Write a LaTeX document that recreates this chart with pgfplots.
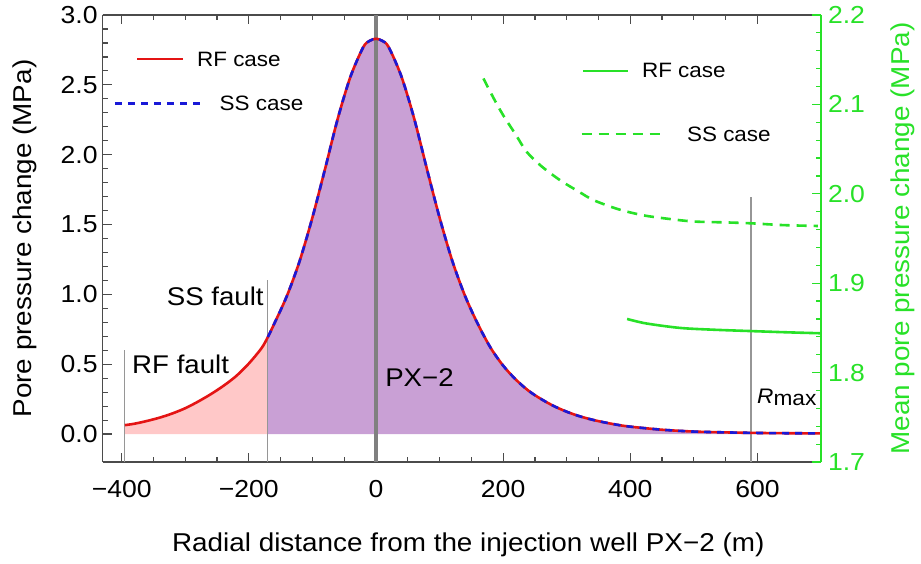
\documentclass[border=0pt]{standalone}
\usepackage{fontspec}
\setmainfont{Liberation Sans}[FakeStretch=1.08]
\usepackage{pgfplots}
\usepackage{pgfplotstable}
\pgfplotsset{compat=1.18}

\definecolor{rfred}{RGB}{228,20,20}
\definecolor{ssblue}{RGB}{25,25,215}
\definecolor{fillpurple}{RGB}{201,160,213}
\definecolor{fillpink}{RGB}{255,200,200}
\definecolor{grn}{RGB}{40,225,40}
\definecolor{framec}{RGB}{75,75,75}
\definecolor{vline}{RGB}{150,150,150}
\definecolor{pxline}{RGB}{128,128,128}

\newcommand\tickfont{\fontsize{12.3bp}{14bp}\selectfont}
\newcommand\labfont{\fontsize{12.9bp}{15bp}\selectfont}
\newcommand\annfont{\fontsize{12.8bp}{15bp}\selectfont}
\newcommand\legfont{\fontsize{10.4bp}{12bp}\selectfont}

\pgfplotstableread{
x y
-395 0.064
-380 0.074
-360 0.094
-340 0.118
-320 0.148
-300 0.185
-280 0.232
-260 0.285
-240 0.345
-220 0.415
-200 0.505
-180 0.615
-170 0.695
-160 0.790
-140 0.990
-120 1.240
-100 1.550
-80 1.900
-60 2.260
-40 2.560
-20 2.770
-10 2.815
0 2.830
10 2.815
20 2.770
40 2.560
60 2.260
80 1.900
100 1.550
120 1.240
140 0.990
160 0.790
180 0.620
200 0.490
220 0.390
240 0.310
260 0.250
280 0.200
300 0.160
320 0.128
340 0.103
360 0.083
380 0.066
400 0.053
450 0.031
500 0.018
550 0.012
600 0.008
650 0.006
700 0.005
}\rfdata

\pgfplotstableread{
x y
-395 0.064
-380 0.074
-360 0.094
-340 0.118
-320 0.148
-300 0.185
-280 0.232
-260 0.285
-240 0.345
-220 0.415
-200 0.505
-180 0.615
-170 0.695
}\pinkdata

\pgfplotstableread{
x y
-170 0.695
-160 0.790
-140 0.990
-120 1.240
-100 1.550
-80 1.900
-60 2.260
-40 2.560
-20 2.770
-10 2.815
0 2.830
10 2.815
20 2.770
40 2.560
60 2.260
80 1.900
100 1.550
120 1.240
140 0.990
160 0.790
180 0.620
200 0.490
220 0.390
240 0.310
260 0.250
280 0.200
300 0.160
320 0.128
340 0.103
360 0.083
380 0.066
400 0.053
450 0.031
500 0.018
550 0.012
600 0.008
650 0.006
700 0.005
}\ssdata

\pgfplotstableread{
x y
169 2.129
185 2.107
200 2.088
220 2.066
237 2.047
260 2.031
290 2.015
320 2.002
342 1.993
380 1.983
420 1.976
460 1.972
500 1.969
550 1.968
590 1.967
640 1.965
695 1.964
}\meanss

\pgfplotstableread{
x y
395 1.860
425 1.855
478 1.850
530 1.848
588 1.8465
650 1.845
700 1.844
}\meanrf

\begin{document}
\begin{tikzpicture}
\begin{axis}[
  name=main,
  scale only axis, width=359.2bp, height=223.5bp,
  xmin=-430, xmax=700, ymin=-0.2, ymax=3.0,
  axis y line*=left,
  axis line style={framec, line width=0.8bp},
  xtick={-400,-200,0,200,400,600},
  xticklabels={−400,−200,0,200,400,600},
  minor x tick num=3,
  ytick={0,0.5,1,1.5,2,2.5,3},
  yticklabels={0.0,0.5,1.0,1.5,2.0,2.5,3.0},
  minor y tick num=4,
  tick style={framec, line width=0.6bp},
  major tick length=4.5bp, minor tick length=2.5bp,
  tick label style={font=\tickfont, text=black},
  xticklabel style={anchor=center, yshift=-13.5bp},
  yticklabel style={anchor=east, xshift=1bp},
  xlabel={Radial distance from the injection well PX−2 (m)},
  xlabel style={font=\labfont, at={([yshift=-41.5bp]rel axis cs:0.509,0)}, anchor=center},
  ylabel={Pore pressure change (MPa)},
  ylabel style={font=\labfont, at={([xshift=-38.8bp]rel axis cs:0,0.5)}, anchor=center},
]
\addplot[draw=none, fill=fillpink] table[x=x,y=y] {\pinkdata} \closedcycle;
\addplot[draw=none, fill=fillpurple] table[x=x,y=y] {\ssdata} \closedcycle;
\addplot[vline, line width=0.6bp] coordinates {(-395,-0.2) (-395,0.6)};
\addplot[vline, line width=0.6bp] coordinates {(-170,-0.2) (-170,1.1)};
\addplot[vline, line width=0.6bp] coordinates {(590,-0.2) (590,1.7)};
\addplot[pxline, line width=2bp] coordinates {(0,-0.2) (0,3.0)};
\addplot[rfred, line width=1.3bp, smooth] table[x=x,y=y] {\rfdata};
\addplot[ssblue, line width=1.3bp, smooth, dash pattern=on 3.5bp off 3bp] table[x=x,y=y] {\ssdata};

% annotations
\node[font=\annfont, anchor=base west, inner sep=0pt] at (axis cs:-384,0.437) {RF fault};
\node[font=\annfont, anchor=base east, inner sep=0pt] at (axis cs:-176,0.923) {SS fault};
\node[font=\annfont, anchor=base west, inner sep=0pt] at (axis cs:14,0.339) {PX−2};
\node[font=\fontsize{10.5bp}{12bp}\selectfont, anchor=base west, inner sep=0pt] at (axis cs:599,0.22) {\textit{R}\raisebox{-1.2bp}{max}};

% legends
\draw[rfred, line width=1.3bp] (axis cs:-375.4,2.684) -- (axis cs:-303.1,2.684);
\node[font=\legfont, anchor=west, inner sep=0pt] at (axis cs:-282,2.684) {RF case};
\draw[ssblue, line width=1.3bp, dash pattern=on 3.5bp off 3bp] (axis cs:-410.5,2.367) -- (axis cs:-276.8,2.367);
\node[font=\legfont, anchor=west, inner sep=0pt] at (axis cs:-246.5,2.367) {SS case};
\draw[grn, line width=1.3bp] (axis cs:326,2.600) -- (axis cs:396.8,2.600);
\node[font=\legfont, anchor=west, inner sep=0pt] at (axis cs:417.9,2.600) {RF case};
\draw[grn, line width=1.3bp, dash pattern=on 5bp off 3.5bp] (axis cs:323.5,2.147) -- (axis cs:457.2,2.147);
\node[font=\legfont, anchor=west, inner sep=0pt] at (axis cs:488.7,2.147) {SS case};
\end{axis}

\begin{axis}[
  scale only axis, width=359.2bp, height=223.5bp,
  xmin=-430, xmax=700, ymin=1.7, ymax=2.2,
  axis y line*=right, axis x line=none,
  axis line style={grn, line width=0.8bp},
  ytick={1.7,1.8,1.9,2.0,2.1,2.2},
  yticklabels={1.7,1.8,1.9,2.0,2.1,2.2},
  minor y tick num=4,
  tick style={grn, line width=0.6bp},
  major tick length=4.5bp, minor tick length=2.5bp,
  yticklabel style={font=\tickfont, text=grn},
  ylabel={Mean pore pressure change (MPa)},
  ylabel style={font=\labfont, text=grn, at={([xshift=41bp]rel axis cs:1,0.5)}, anchor=center, rotate=0},
]
\addplot[grn, line width=1.3bp, smooth, dash pattern=on 5bp off 3.5bp] table[x=x,y=y] {\meanss};
\addplot[grn, line width=1.3bp, smooth] table[x=x,y=y] {\meanrf};
\end{axis}
\pgfresetboundingbox
\path[use as bounding box] ([xshift=-51.3bp, yshift=-50.5bp]main.south west) rectangle ([xshift=50bp, yshift=7.5bp]main.north east);
\end{tikzpicture}
\end{document}
